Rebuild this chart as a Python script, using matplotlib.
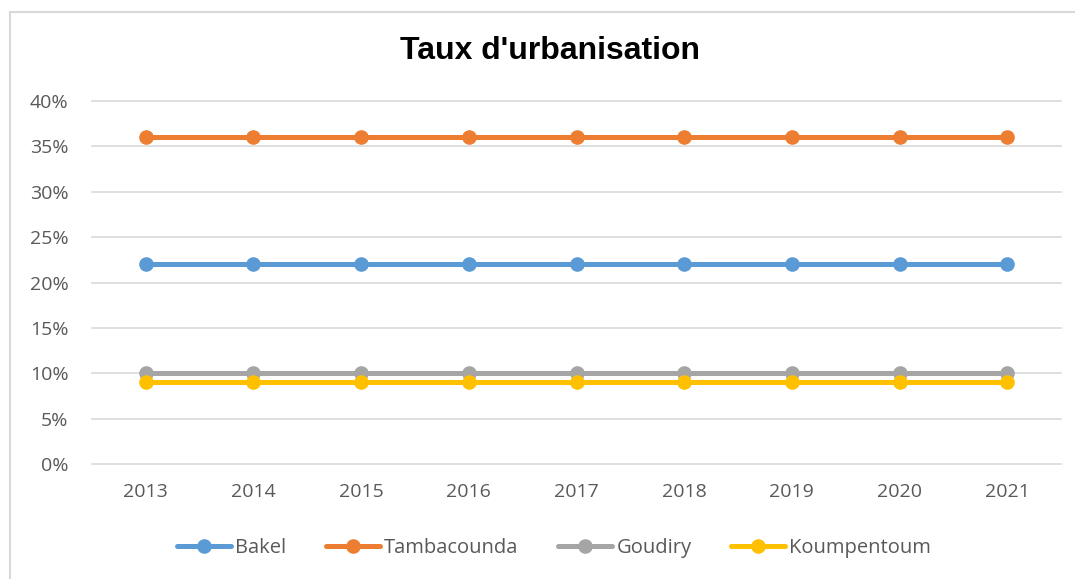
import matplotlib.pyplot as plt
from matplotlib.ticker import PercentFormatter
from matplotlib.patches import Rectangle

years = ['2013', '2014', '2015', '2016', '2017', '2018', '2019', '2020', '2021']
bakel = [22, 22, 22, 22, 22, 22, 22, 22, 22]
tambacounda = [36, 36, 36, 36, 36, 36, 36, 36, 36]
goudiry = [10, 10, 10, 10, 10, 10, 10, 10, 10]
koumpentoum = [9, 9, 9, 9, 9, 9, 9, 9, 9]

series = [
    ('Bakel', bakel, '#5B9BD5'),
    ('Tambacounda', tambacounda, '#ED7D31'),
    ('Goudiry', goudiry, '#A5A5A5'),
    ('Koumpentoum', koumpentoum, '#FFC000'),
]

plt.rcParams['font.family'] = ['Open Sans', 'DejaVu Sans']
txt = '#595959'

fig = plt.figure(figsize=(10.75, 5.79), dpi=100)
ax = fig.add_axes([92 / 1075, 1 - 464 / 579, (1061 - 92) / 1075, (464 - 101) / 579])

x = range(len(years))
for name, vals, col in series:
    ax.plot(x, vals, color=col, lw=3.6, marker='o', ms=9.5, label=name, solid_capstyle='round')

ax.set_xlim(-0.5, len(years) - 0.5)
ax.set_ylim(0, 40)
ax.set_yticks(range(0, 41, 5))
ax.yaxis.set_major_formatter(PercentFormatter(decimals=0))
ax.set_xticks(list(x))
ax.set_xticklabels(years)
ax.grid(axis='y', color='#D9D9D9', lw=1.2)
for gl in ax.get_ygridlines():
    gl.set_clip_on(False)
ax.set_axisbelow(True)
for s in ax.spines.values():
    s.set_visible(False)
ax.tick_params(length=0, labelsize=14, colors=txt)
ax.tick_params(axis='x', pad=14)
ax.tick_params(axis='y', pad=17)

fig.text(550 / 1075, 1 - 51 / 579, "Taux d'urbanisation", ha='center', va='center',
         fontsize=23, fontweight='bold', family='Liberation Sans', color='black')

leg = fig.legend(loc='center', bbox_to_anchor=(554 / 1075, 1 - 548 / 579), ncol=4,
                 frameon=False, fontsize=14.5, handlelength=2.7, columnspacing=1.95,
                 handletextpad=0.2, labelcolor=txt)

fig.patches.append(Rectangle((9.5 / 1075, -0.05), 1.05, 1.05 - 12 / 579,
                             transform=fig.transFigure, fill=False, ec='#D9D9D9', lw=1.5))

fig.savefig('out.png', dpi=100)
